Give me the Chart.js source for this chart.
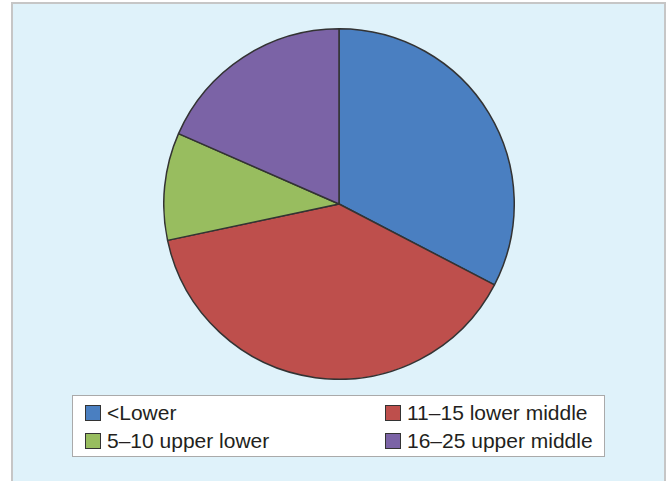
<!DOCTYPE html>
<html>
<head>
<meta charset="utf-8">
<script src="https://cdn.jsdelivr.net/npm/chart.js@4"></script>
<style>
  body { margin: 0; width: 668px; height: 481px; background: #fff; overflow: hidden; font-family: "Liberation Sans", Arial, sans-serif; }
  #panel { position: absolute; left: 11px; top: 2px; width: 651px; height: 490px; background: #dff2fa; border: 2px solid #c6c6c6; }
  #pieWrap { position: absolute; left: 163px; top: 28px; width: 352px; height: 352px; }
  #legend { position: absolute; left: 72px; top: 395px; width: 531px; height: 60px; background: #fff; border: 1px solid #aaa; }
  .item { position: absolute; display: flex; align-items: center; font-size: 21px; line-height: 24px; color: #231f20; white-space: nowrap; }
  .box { width: 14px; height: 14px; border: 1px solid #333; margin-right: 6px; }
</style>
</head>
<body>
<div id="panel"></div>
<div id="pieWrap"><canvas id="pieChart" width="352" height="352"></canvas></div>
<div id="legend"></div>
<script>
( () => {

    const categories = ['<Lower', '11–15 lower middle', '5–10 upper lower', '16–25 upper middle'];
    const shares = [32.6, 39.0, 9.9, 18.4];
    const colors = ['#4a7fc1', '#be4f4c', '#98bd5f', '#7b63a6'];

    // legend laid out in two columns like the original (blue, red / green, purple)
    const legendSpots = [
        { left: 12, top: 5 },
        { left: 312, top: 5 },
        { left: 12, top: 33 },
        { left: 312, top: 33 }
    ];

    const renderLegend = () => {
        const legend = document.querySelector('#legend');
        categories.forEach( (name, i) => {
            const item = document.createElement('div');
            item.className = 'item';
            item.style.left = legendSpots[i].left + 'px';
            item.style.top = legendSpots[i].top + 'px';
            const box = document.createElement('span');
            box.className = 'box';
            box.style.background = colors[i];
            const label = document.createElement('span');
            label.textContent = name;
            item.appendChild(box);
            item.appendChild(label);
            legend.appendChild(item);
        });
    }

    const createPie = () => {
        const ctx = document.getElementById('pieChart').getContext('2d');
        new Chart(ctx, {
            type: 'pie',
            data: {
                labels: categories,
                datasets: [{
                    data: shares,
                    backgroundColor: colors,
                    borderColor: '#333333',
                    borderWidth: 1.5
                }]
            },
            options: {
                responsive: false,
                animation: false,
                layout: { padding: 0 },
                plugins: {
                    legend: { display: false },
                    tooltip: { enabled: false }
                }
            }
        });
    }

    renderLegend();
    createPie();

})();
</script>
</body>
</html>
